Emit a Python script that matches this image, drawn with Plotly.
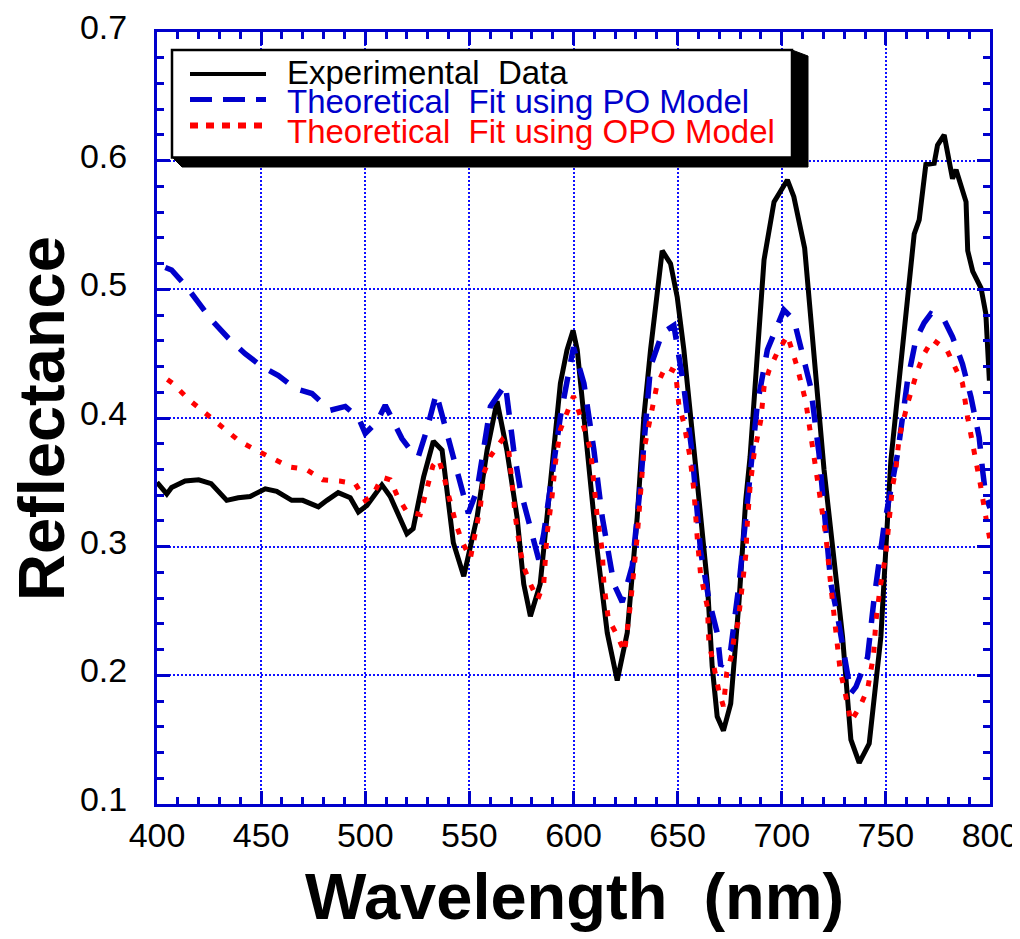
import plotly.graph_objects as go

# ---------------- data ----------------
exp_x = [400, 404.7, 407, 413.5, 420, 423, 426, 433.5, 439, 444.7, 449.5, 452, 457.5, 464.7, 470, 477.5,
         481.6, 487, 492.8, 496.7, 500.8, 508, 512, 520, 523, 528, 532.7, 536.9, 542.3, 547.3, 553.7, 558.5,
         563.3, 568, 572.9, 576.1, 579.3, 584, 588.9, 593.7, 596.9, 599.8, 601.8, 606.6, 611.4, 616.2, 621,
         625.8, 630.6, 633.8, 637, 642.6, 646.6, 649.8, 653, 659.5, 664.3, 666.6, 669, 672, 675.5, 679.5,
         682.7, 684.8, 691.5, 696.3, 702.7, 705.8, 711, 720.3, 724.4, 729.2, 733.2, 737.2, 742, 747.6, 752.4,
         760.4, 763.6, 766, 769.2, 773.2, 774.8, 778, 782, 783.7, 788.5, 789.3, 791.7, 795.7, 798, 799.7]
exp_y = [0.350, 0.341, 0.346, 0.351, 0.352, 0.350, 0.349, 0.336, 0.338, 0.339, 0.343, 0.345, 0.343, 0.336,
         0.336, 0.331, 0.336, 0.342, 0.338, 0.327, 0.332, 0.348, 0.339, 0.310, 0.314, 0.354, 0.382, 0.375,
         0.303, 0.277, 0.323, 0.375, 0.413, 0.375, 0.323, 0.271, 0.246, 0.271, 0.349, 0.427, 0.453, 0.468,
         0.453, 0.375, 0.297, 0.233, 0.196, 0.233, 0.323, 0.401, 0.453, 0.530, 0.520, 0.494, 0.453, 0.349,
         0.271, 0.207, 0.168, 0.157, 0.178, 0.258, 0.336, 0.370, 0.523, 0.568, 0.585, 0.572, 0.532, 0.360,
         0.297, 0.230, 0.150, 0.132, 0.147, 0.230, 0.367, 0.489, 0.543, 0.554, 0.597, 0.598, 0.612, 0.620,
         0.586, 0.593, 0.568, 0.530, 0.514, 0.501, 0.481, 0.429]

po_x = [404, 407, 414.2, 420.7, 426.3, 434.3, 442.3, 450.3, 458.3, 466.3, 474.4, 483.2, 490.4, 496.8, 500,
        505.6, 509.6, 513.6, 517.6, 523.2, 525.5, 529.6, 534.1, 537.6, 542.5, 546.5, 549.5, 553.7, 556.9,
        560.1, 567.3, 571.3, 574.5, 579.3, 583.3, 585.7, 588.9, 593.7, 600, 605, 609.8, 613.8, 619.4, 623.4,
        628.2, 632.2, 637, 642.6, 648.2, 650.6, 653, 657, 661, 665, 669, 670.7, 675.5, 679.5, 683.5, 688.3,
        693.1, 697.9, 701, 705.9, 710.7, 713.9, 717.9, 723.6, 726.8, 730, 733.2, 735.6, 741.2, 744.3, 749.1,
        755.6, 760.4, 764.4, 768.4, 771.6, 778, 782, 786.8, 790.9, 794.8, 796.4, 798, 800]
po_y = [0.517, 0.515, 0.502, 0.488, 0.476, 0.462, 0.450, 0.440, 0.433, 0.423, 0.419, 0.406, 0.409, 0.400,
        0.388, 0.397, 0.410, 0.397, 0.384, 0.372, 0.370, 0.391, 0.419, 0.398, 0.367, 0.345, 0.326, 0.344,
        0.378, 0.409, 0.426, 0.375, 0.344, 0.313, 0.290, 0.310, 0.349, 0.401, 0.455, 0.427, 0.375, 0.323,
        0.271, 0.257, 0.285, 0.349, 0.440, 0.466, 0.472, 0.450, 0.424, 0.372, 0.297, 0.259, 0.233, 0.207,
        0.220, 0.271, 0.336, 0.411, 0.453, 0.473, 0.484, 0.476, 0.445, 0.424, 0.372, 0.271, 0.246, 0.214,
        0.186, 0.191, 0.214, 0.259, 0.316, 0.372, 0.429, 0.461, 0.474, 0.481, 0.476, 0.463, 0.442, 0.416,
        0.385, 0.360, 0.339, 0.330]

opo_x = [405, 407.5, 415.5, 423.6, 431.6, 439.6, 447.6, 455.6, 463.6, 471.6, 479.6, 487.6, 495.2, 500,
         503.7, 508, 512, 515.5, 520, 526.4, 528.4, 530.4, 532.5, 535.2, 537.6, 539.5, 541.6, 543.7, 546.5,
         550.5, 553.7, 555.3, 556.9, 560, 565.7, 568.9, 570.5, 572.1, 574.5, 576.4, 579.3, 582.8, 585.7,
         587.3, 589.7, 591.3, 593.7, 596.9, 600, 603.4, 605.8, 608.2, 609.8, 611.4, 613.8, 614.6, 616.7, 621,
         624.5, 627.4, 630.6, 632.2, 633.8, 635.4, 637, 640, 644.2, 649, 650.6, 653, 655.9, 657.8, 659.5, 661,
         662.6, 664.3, 665, 666.6, 667.9, 669.9, 672, 673.6, 676, 677.1, 679, 680, 681.1, 682.7, 683.5, 684.8,
         686.7, 689.9, 691.5, 693.9, 697.6, 702.7, 705.1, 707.5, 711.5, 713.9, 715.5, 717.9, 720, 721.2,
         723.6, 726, 728.1, 730, 731.4, 733.2, 737.6, 741.2, 744.1, 745.2, 747.3, 749.9, 751.5, 753.2, 754.8,
         756.4, 760.4, 765.2, 768.4, 772.4, 779.3, 782.9, 786.8, 789.2, 792.4, 795.3, 798, 800]
opo_y = [0.430, 0.427, 0.414, 0.403, 0.393, 0.382, 0.375, 0.369, 0.362, 0.360, 0.352, 0.351, 0.349, 0.336,
         0.340, 0.354, 0.352, 0.339, 0.327, 0.325, 0.337, 0.352, 0.363, 0.368, 0.356, 0.343, 0.328, 0.317,
         0.304, 0.291, 0.318, 0.331, 0.357, 0.370, 0.383, 0.375, 0.349, 0.323, 0.296, 0.283, 0.271, 0.259,
         0.271, 0.310, 0.339, 0.365, 0.391, 0.404, 0.417, 0.401, 0.389, 0.375, 0.349, 0.323, 0.297, 0.271,
         0.244, 0.231, 0.218, 0.256, 0.308, 0.349, 0.375, 0.388, 0.401, 0.425, 0.440, 0.436, 0.410, 0.396,
         0.370, 0.344, 0.305, 0.279, 0.266, 0.253, 0.226, 0.213, 0.200, 0.187, 0.176, 0.202, 0.216, 0.229,
         0.241, 0.255, 0.268, 0.293, 0.319, 0.347, 0.372, 0.398, 0.424, 0.437, 0.450, 0.464, 0.452, 0.439,
         0.413, 0.387, 0.372, 0.348, 0.321, 0.308, 0.269, 0.229, 0.203, 0.190, 0.177, 0.164, 0.176, 0.189,
         0.216, 0.242, 0.269, 0.293, 0.319, 0.347, 0.360, 0.385, 0.411, 0.437, 0.450, 0.461, 0.453, 0.440,
         0.427, 0.401, 0.375, 0.349, 0.323, 0.305]

series_names = ["Experimental\u00a0\u00a0Data",
                "Theoretical\u00a0\u00a0Fit using PO Model",
                "Theoretical\u00a0\u00a0Fit using OPO Model"]
x_ticks = [400, 450, 500, 550, 600, 650, 700, 750, 800]
y_ticks = [0.1, 0.2, 0.3, 0.4, 0.5, 0.6, 0.7]

BLUE = "#0000cc"
GRID = "#1010ff"
RED = "#ff0000"
FONT = "Liberation Sans, Arial, Helvetica, sans-serif"

fig = go.Figure()
fig.add_trace(go.Scatter(x=exp_x, y=exp_y, mode="lines", name=series_names[0],
                         line=dict(color="black", width=5)))
fig.add_trace(go.Scatter(x=po_x, y=po_y, mode="lines", name=series_names[1],
                         line=dict(color=BLUE, width=5.5, dash="22px,15px")))
fig.add_trace(go.Scatter(x=opo_x, y=opo_y, mode="lines", name=series_names[2],
                         line=dict(color=RED, width=5, dash="6px,11px")))

# page offset of the figure div (default body margin) and page-pixel geometry
OFF = 8
FIG_W, FIG_H = 1020 - OFF, 939 - OFF
L, R, T, B = 157, 990, 32, 804          # plot area in page pixels
W_PLOT, H_PLOT = R - L, B - T


def px(x):
    return (x - L) / W_PLOT


def py(y):
    return (B - y) / H_PLOT


axis_common = dict(showline=True, linecolor=BLUE, linewidth=3, mirror="ticks",
                   ticks="inside", ticklen=13, tickwidth=2.5, tickcolor=BLUE,
                   showgrid=True, gridcolor=GRID, gridwidth=2, griddash="2px,2px",
                   zeroline=False, automargin=False, ticklabeloverflow="allow",
                   tickfont=dict(family=FONT, size=34, color="black"))

fig.update_xaxes(range=[400, 800], tickvals=x_ticks, ticklabelstandoff=-1,
                 minor=dict(dtick=10, tick0=400, ticks="inside", ticklen=7, tickwidth=2.5,
                            tickcolor=BLUE, showgrid=False),
                 **axis_common)
fig.update_yaxes(range=[0.1, 0.7], tickvals=y_ticks, tickformat=".1f",
                 minor=dict(dtick=0.02, tick0=0.1, ticks="inside", ticklen=7, tickwidth=2.5,
                            tickcolor=BLUE, showgrid=False),
                 ticklabelshift=-5, ticklabelstandoff=20,
                 **axis_common)

shapes = []
# legend shadow
shapes.append(dict(type="path", xref="paper", yref="paper", layer="above",
                   path=f"M {px(172)},{py(157)} L {px(182)},{py(167)} L {px(808)},{py(167)} "
                        f"L {px(808)},{py(56)} L {px(792)},{py(50)} Z",
                   fillcolor="black", line=dict(color="black", width=1)))
# legend box
shapes.append(dict(type="rect", xref="paper", yref="paper", layer="above",
                   x0=px(172), x1=px(792), y0=py(157.5), y1=py(50),
                   fillcolor="white", line=dict(color="black", width=2.5)))
legend_styles = [dict(color="black", width=4, dash="solid"),
                 dict(color=BLUE, width=5, dash="22px,11px"),
                 dict(color=RED, width=6, dash="8px,8px")]
legend_rows = [74, 99.5, 125.5]
text_rows = [73, 102, 131]
text_colors = ["black", BLUE, RED]
for st, yr in zip(legend_styles, legend_rows):
    shapes.append(dict(type="line", xref="paper", yref="paper", layer="above",
                       x0=px(190), x1=px(266), y0=py(yr), y1=py(yr), line=st))

annotations = []
for name, yr, col in zip(series_names, text_rows, text_colors):
    annotations.append(dict(text=name, xref="paper", yref="paper", x=px(285), y=py(yr),
                            xanchor="left", yanchor="middle", showarrow=False,
                            font=dict(family=FONT, size=33, color=col)))
annotations.append(dict(text="<b>Reflectance</b>", xref="paper", yref="paper",
                        x=px(41), y=py(419), xanchor="center", yanchor="middle",
                        textangle=-90, showarrow=False,
                        font=dict(family=FONT, size=65, color="black")))
annotations.append(dict(text="<b>Wavelength\u00a0\u00a0(nm)</b>", xref="paper", yref="paper",
                        x=px(574), y=py(896), xanchor="center", yanchor="middle",
                        showarrow=False, font=dict(family=FONT, size=65, color="black")))

fig.update_layout(width=FIG_W, height=FIG_H,
                  margin=dict(l=L - OFF, r=FIG_W - (R - OFF), t=T - OFF, b=FIG_H - (B - OFF)),
                  paper_bgcolor="white", plot_bgcolor="white", showlegend=False,
                  shapes=shapes, annotations=annotations)

fig.write_html("out.html")
